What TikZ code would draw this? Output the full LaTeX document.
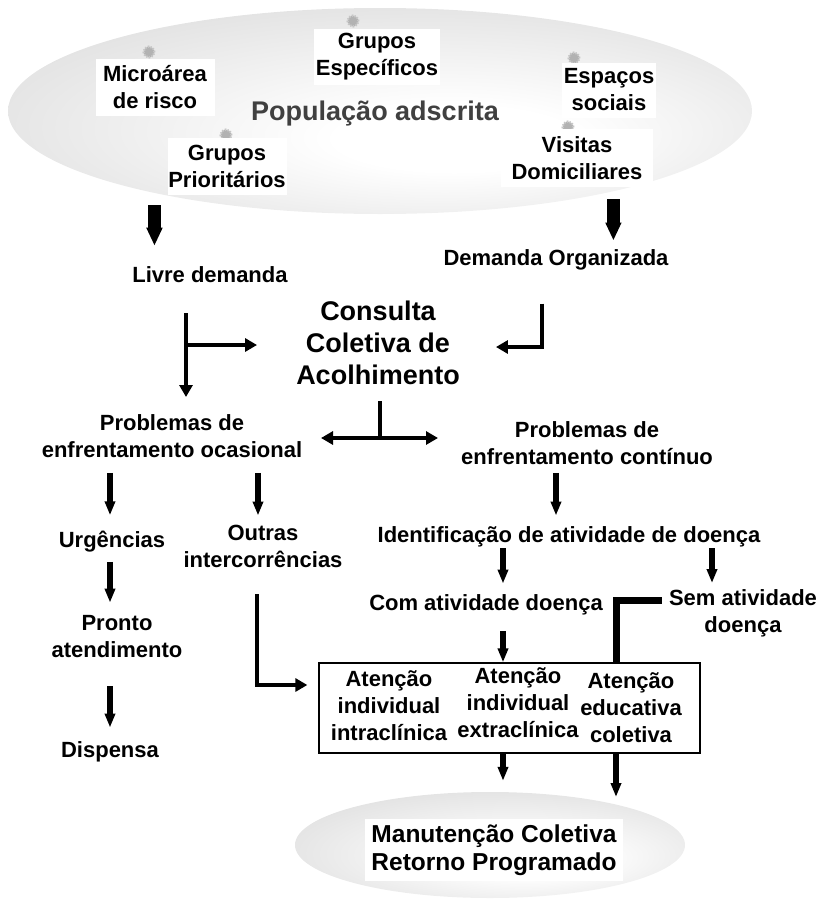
\documentclass[tikz,border=0pt]{standalone}
\usepackage{fontspec}
\setmainfont{Liberation Sans}
\usetikzlibrary{arrows.meta,calc,shapes.geometric}

\pgfdeclareradialshading{popshade}{\pgfpoint{6bp}{-8bp}}{color(0bp)=(white); color(8bp)=(white); color(50bp)=(gray!42)}

\tikzset{
  txt/.style={font=\bfseries\fontsize{22}{27}\selectfont, align=center, inner sep=0pt},
  wbox/.style={txt, fill=white, inner sep=0pt},
  cog/.style={circle, fill=gray!60, draw=gray!45, line width=2.2pt, dash pattern=on 1.4pt off 1.4pt, minimum size=11pt, inner sep=0pt},
  fatarr/.style={line width=13pt, -{Triangle[width=15pt,length=18pt]}},
  arr/.style={line width=6.5pt, -{Triangle[width=10pt,length=14pt]}},
  thinarr/.style={line width=4.5pt, line join=miter, -{Triangle[width=13pt,length=12pt]}},
  dblarr/.style={line width=4.5pt, {Triangle[width=13pt,length=12pt]}-{Triangle[width=13pt,length=12pt]}},
}

\begin{document}
\begin{tikzpicture}[x=1pt,y=-1pt]
\useasboundingbox (0,0) rectangle (818,900);

% populacao adscrita
\node[ellipse, shade, shading=popshade, minimum width=744pt, minimum height=206pt, inner sep=0pt] (popul) at (380,111) {};
\node[txt, font=\bfseries\fontsize{27}{32}\selectfont, text=black!75] (pop) at (375,114) {População adscrita};
\node[cog] (cg1) at (149,52) {};
\node[cog] (cg2) at (353,21) {};
\node[cog] (cg3) at (574,58) {};
\node[cog] (cg4) at (568,127) {};
\node[cog] (cg5) at (226,135) {};
\node[wbox, minimum width=119pt, minimum height=57pt] (micro) at (155,87) {Microárea\\de risco};
\node[wbox, minimum width=126pt, minimum height=56pt] (gesp) at (377,57) {Grupos\\Específicos};
\node[wbox, minimum width=94pt, minimum height=55pt] (espc) at (609,90) {Espaços\\sociais};
\node[wbox, minimum width=152pt, minimum height=58pt] (visit) at (577,158) {Visitas\\Domiciliares};
\node[wbox, minimum width=119pt, minimum height=57pt] (gprio) at (227,166) {Grupos\\Prioritários};

% demandas
\node[txt] (livre) at (210,275) {Livre demanda};
\node[txt] (orgz) at (556,260) {Demanda Organizada};
\node[txt, font=\bfseries\fontsize{27}{32}\selectfont] (cons) at (378,343) {Consulta\\Coletiva de\\Acolhimento};

\draw[fatarr] ([yshift=-12pt]popul.200) -- (popul.200 |- livre.north) [shorten >=21pt];
\draw[fatarr] ([yshift=-8pt]popul.-19) -- (popul.-19 |- orgz.north) [shorten >=9pt];

\coordinate (lj) at (186,345);
\coordinate (rj) at (542,347);
\coordinate (cj) at (380,438);
\draw[thinarr, shorten <=30pt, shorten >=14pt] (lj |- livre.south) -- (lj |- 0,411);
\draw[thinarr, shorten >=39pt] (lj) -- (lj -| cons.west);
\draw[thinarr, shorten <=33pt, shorten >=36pt] (rj |- orgz.south) -- (rj) -- (rj -| cons.east);
\draw[line width=4.5pt, shorten <=16pt] (cons.south -| cj) -- (cj);
\draw[dblarr] ($(cj)+(-59,0)$) -- ($(cj)+(58,0)$);

% problemas
\node[txt] (ocas) at (172,436) {Problemas de\\enfrentamento ocasional};
\node[txt] (cont) at (587,443) {Problemas de\\enfrentamento contínuo};
\node[txt] (urg) at (112,542) {Urgências};
\node[txt] (outras) at (263,546) {Outras\\intercorrências};
\node[txt] (ident) at (569,537) {Identificação de atividade de doença};
\node[txt] (com) at (486,605) {Com atividade doença};
\node[txt] (sem) at (743,613) {Sem atividade\\doença};
\node[txt] (pronto) at (117,637) {Pronto\\atendimento};
\node[txt] (disp) at (110,752) {Dispensa};

\coordinate (ka) at ($(ident.south)+(-66,0)$);
\coordinate (kb) at ($(ident.south)+(143,0)$);
\draw[arr, shorten <=15pt, shorten >=16pt] ([xshift=-2pt]urg.north |- ocas.south) -- ([xshift=-2pt]urg.north);
\draw[arr, shorten <=15pt, shorten >=9pt] ([xshift=-5pt]outras.north |- ocas.south) -- ([xshift=-5pt]outras.north);
\draw[arr, shorten <=8pt, shorten >=11pt] ([xshift=-31pt]cont.south) -- ([xshift=-31pt]cont.south |- ident.north);
\draw[arr, shorten <=1pt, shorten >=11pt] (ka) -- (ka |- com.north);
\draw[arr, shorten <=1pt, shorten >=6pt] (kb) -- (kb |- sem.north);
\draw[arr, shorten <=9pt, shorten >=13pt] ([xshift=-2pt]urg.south) -- ([xshift=-2pt]urg.south |- pronto.north);
\draw[arr, shorten <=28pt, shorten >=14pt] ([xshift=-7pt]pronto.south) -- ([xshift=-7pt]pronto.south |- disp.north);

% atencao
\node[draw, line width=1.3pt, minimum width=381pt, minimum height=90pt] (aten) at (509.5,708) {};
\node[txt] (at1) at (389,706) {Atenção\\individual\\intraclínica};
\node[txt] (at2) at (518,703) {Atenção\\individual\\extraclínica};
\node[txt] (at3) at (631,708) {Atenção\\educativa\\coletiva};

\coordinate (oj) at (257,685);
\coordinate (sj) at (616,600);
\draw[thinarr, shorten <=27pt, shorten >=11pt] (oj |- outras.south) -- (oj) -- (aten.west |- oj);
\draw[arr, shorten <=16pt] (ka |- com.south) -- (ka |- aten.north);
\draw[line width=7pt, line join=miter, shorten <=7pt] (sem.west |- sj) -- (sj) -- (sj |- aten.north);

% manutencao
\node[ellipse, shade, shading=popshade, minimum width=390pt, minimum height=106pt, inner sep=0pt] (manut) at (490,845) {};
\node[wbox, font=\bfseries\fontsize{24.5}{28}\selectfont, minimum width=258pt, minimum height=62pt] (ret) at (494,850) {Manutenção Coletiva\\Retorno Programado};

\draw[arr, shorten >=11pt] (ka |- aten.south) -- (ka |- manut.north);
\draw[arr] (sj |- aten.south) -- (sj |- 0,797);
\end{tikzpicture}
\end{document}
